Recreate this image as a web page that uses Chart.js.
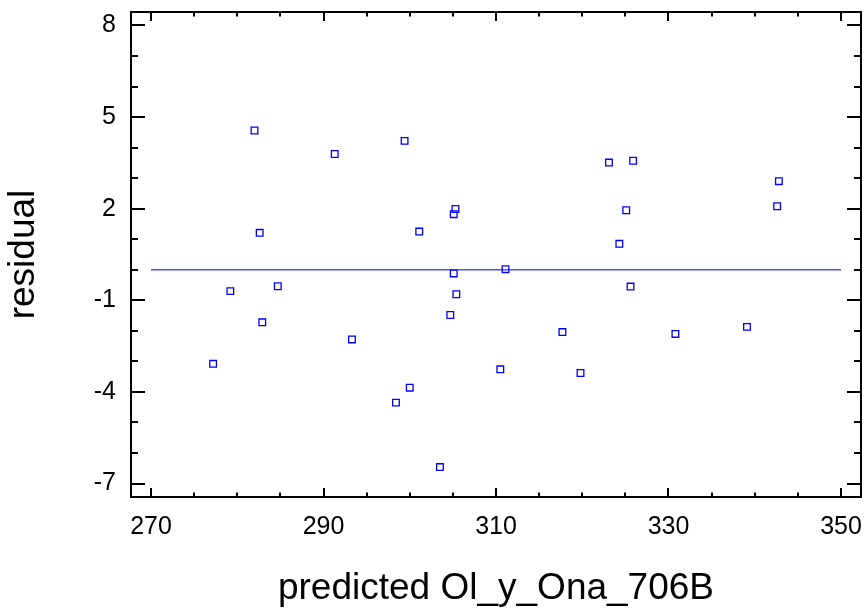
<!DOCTYPE html>
<html>
<head>
<meta charset="utf-8">
<script src="https://cdn.jsdelivr.net/npm/chart.js@4.4.1/dist/chart.umd.min.js"></script>
<style>
    html, body { margin: 0; padding: 0; background: #fff; }
    #wrap { width: 868px; height: 614px; }
</style>
</head>
<body>
<div id="wrap"><canvas id="residChart" width="868" height="614"></canvas></div>
<script>
// --- DATA ---
const predicted = [277.2, 279.2, 282.0, 282.6, 282.9, 284.7, 291.3, 293.3, 298.4, 299.4, 300.0,
    301.1, 303.5, 304.7, 305.1, 305.3, 305.1, 305.4, 310.5, 311.1, 317.7, 319.8, 323.1, 324.3,
    325.1, 325.6, 325.9, 330.8, 339.1, 342.6, 342.8];
const residual = [-3.08, -0.70, 4.56, 1.21, -1.72, -0.54, 3.79, -2.28, -4.35, 4.22, -3.86,
    1.25, -6.46, -1.48, 1.82, 1.99, -0.12, -0.80, -3.26, 0.02, -2.04, -3.38, 3.51, 0.85,
    1.95, -0.55, 3.57, -2.10, -1.87, 2.08, 2.90];
const zeroLineX = [270, 350];
const xTicks = [270, 290, 310, 330, 350];
const yTicks = [-7, -4, -1, 2, 5, 8];
const xMinorStep = 5;
const yMinorStep = 1;

const FONT = "'Liberation Sans', Arial, Helvetica, sans-serif";

// frame + inward ticks on all four sides
const frameTicks = {
    id: 'frameTicks',
    afterDraw(chart) {
        const ctx = chart.ctx;
        const a = chart.chartArea;
        const xs = chart.scales.x, ys = chart.scales.y;
        ctx.save();
        ctx.strokeStyle = '#000';
        ctx.lineWidth = 2;
        ctx.beginPath();
        for (let v = Math.ceil(xs.min / xMinorStep) * xMinorStep; v <= xs.max; v += xMinorStep) {
            const px = Math.round(xs.getPixelForValue(v));
            const len = xTicks.includes(v) ? 9 : 4.5;
            ctx.moveTo(px, a.bottom); ctx.lineTo(px, a.bottom - len);
            ctx.moveTo(px, a.top); ctx.lineTo(px, a.top + len);
        }
        for (let v = Math.ceil(ys.min / yMinorStep) * yMinorStep; v <= ys.max; v += yMinorStep) {
            const py = Math.round(ys.getPixelForValue(v));
            const len = yTicks.includes(v) ? 14 : 7;
            ctx.moveTo(a.left, py); ctx.lineTo(a.left + len, py);
            ctx.moveTo(a.right, py); ctx.lineTo(a.right - len, py);
        }
        ctx.stroke();
        ctx.strokeRect(a.left, a.top, a.right - a.left, a.bottom - a.top);
        ctx.restore();
    }
};

new Chart(document.getElementById('residChart').getContext('2d'), {
    type: 'scatter',
    data: {
        datasets: [
            {
                data: predicted.map((x, i) => ({ x: x, y: residual[i] })),
                pointStyle: 'rect',
                pointRadius: 4.7,
                borderColor: '#0000ff',
                borderWidth: 1.3,
                backgroundColor: 'rgba(0,0,0,0)'
            },
            {
                type: 'line',
                data: zeroLineX.map(x => ({ x: x, y: 0 })),
                borderColor: '#5050ff',
                borderWidth: 1.5,
                pointRadius: 0,
                fill: false
            }
        ]
    },
    options: {
        responsive: false,
        animation: false,
        devicePixelRatio: 1,
        plugins: { legend: { display: false }, tooltip: { enabled: false } },
        layout: { padding: { left: 0, right: 7, top: 12, bottom: 0 } },
        scales: {
            x: {
                type: 'linear',
                min: 267.68, max: 352.32,
                afterBuildTicks: s => { s.ticks = xTicks.map(v => ({ value: v })); },
                afterFit: s => { s.height = 117; s.paddingLeft = 0; s.paddingRight = 0; },
                grid: { display: false, drawTicks: false },
                border: { display: false },
                ticks: { color: '#000', font: { size: 25, family: FONT }, padding: 15, maxRotation: 0 },
                title: { display: true, text: 'predicted Ol_y_Ona_706B', color: '#000',
                    font: { size: 37, family: FONT }, padding: { top: 0, bottom: 3 } }
            },
            y: {
                type: 'linear',
                min: -7.44, max: 8.44,
                afterBuildTicks: s => { s.ticks = yTicks.map(v => ({ value: v })); },
                afterFit: s => { s.width = 131; s.paddingTop = 0; s.paddingBottom = 0; },
                grid: { display: false, drawTicks: false },
                border: { display: false },
                ticks: { color: '#000', font: { size: 25, family: FONT }, padding: 15 },
                title: { display: true, text: 'residual', color: '#000',
                    font: { size: 37, family: FONT }, padding: { top: 2, bottom: 0 } }
            }
        }
    },
    plugins: [frameTicks]
});
</script>
</body>
</html>
